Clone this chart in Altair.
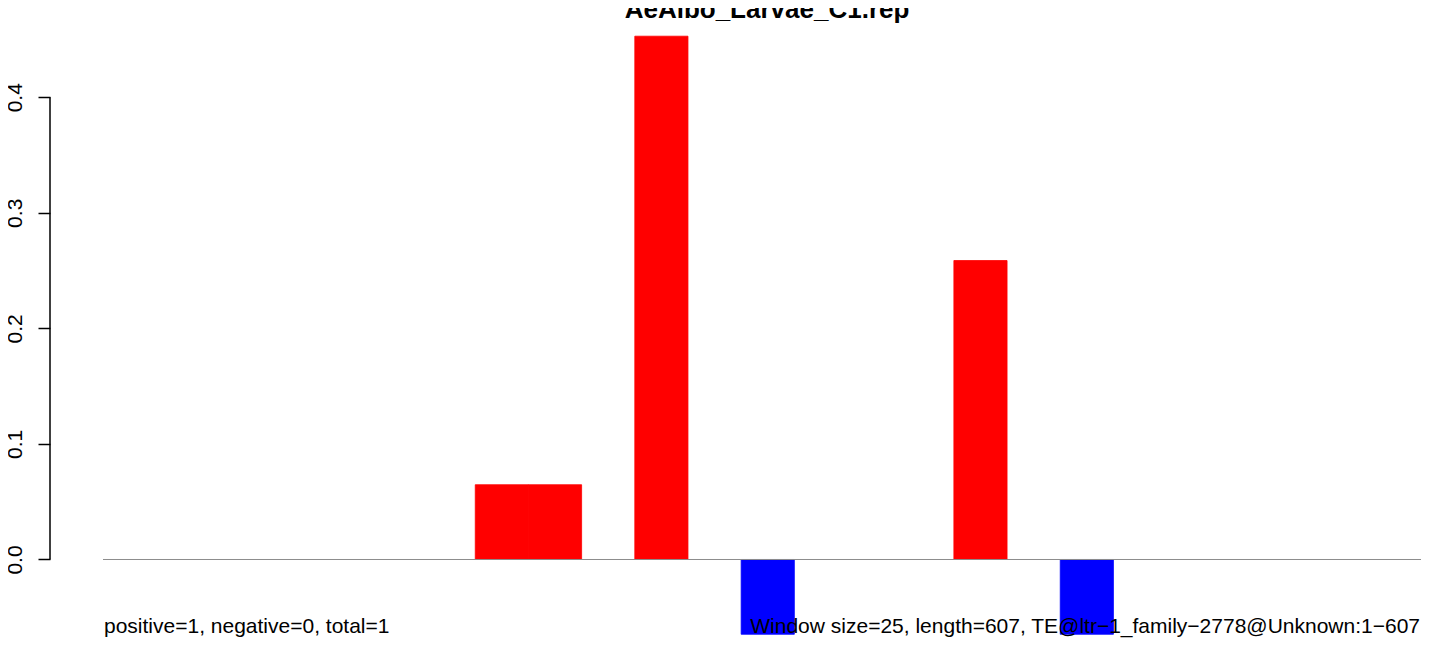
import altair as alt
import pandas as pd

# ---- data ----
bin_index = list(range(25))
bin_values = [0, 0, 0, 0, 0, 0, 0, 0.0647, 0.0647, 0, 0.4528, 0, -0.0647,
              0, 0, 0, 0.2587, 0, -0.0647, 0, 0, 0, 0, 0, 0]
y_ticks = [0.0, 0.1, 0.2, 0.3, 0.4]
title_text = "AeAlbo_Larvae_C1.rep"
left_note = "positive=1, negative=0, total=1"
right_note = "Window size=25, length=607, TE@ltr\u22121_family\u22122778@Unknown:1\u2212607"

FONT = "Liberation Sans"
PX_PER_BIN = 53.18
PLOT_W = 1318
PLOT_H = 630

df = pd.DataFrame({
    "start": bin_index,
    "end": [b + 1 for b in bin_index],
    "value": bin_values,
    "sign": ["neg" if v < 0 else "pos" for v in bin_values],
})
df = df[df["value"] != 0]

xs = alt.Scale(domain=[0, PLOT_W / PX_PER_BIN], nice=False, zero=False)
ys = alt.Scale(domain=[-0.06793, 0.4772], nice=False, zero=False)
col_scale = alt.Scale(domain=["pos", "neg"], range=["#FF0000", "#0000FF"])

bars = alt.Chart(df).mark_bar(strokeWidth=0.8).encode(
    x=alt.X("start:Q", scale=xs, axis=None),
    x2="end:Q",
    y=alt.Y("value:Q", scale=ys, axis=alt.Axis(
        values=y_ticks, format=".1f", domain=False, grid=False, title=None,
        tickSize=12, tickWidth=1.5, tickColor="black",
        labelFontSize=21, labelFont=FONT, labelColor="black",
        labelAngle=270, labelAlign="center", labelBaseline="alphabetic",
        labelPadding=17, offset=53)),
    y2=alt.datum(0),
    color=alt.Color("sign:N", scale=col_scale, legend=None),
    stroke=alt.Stroke("sign:N", scale=col_scale, legend=None),
)

baseline = alt.Chart(pd.DataFrame({"x0": [0], "x1": [25], "y0": [0]})).mark_rule(
    color="#8c8c8c", strokeWidth=1, clip=True).encode(
    x=alt.X("x0:Q", scale=xs), x2="x1:Q", y=alt.Y("y0:Q", scale=ys))

axis_line = alt.Chart(pd.DataFrame({"lo": [y_ticks[0]], "hi": [y_ticks[-1]]})).mark_rule(
    color="black", strokeWidth=1.5).encode(
    x=alt.value(-53), y=alt.Y("lo:Q", scale=ys), y2="hi:Q")

title = alt.Chart(pd.DataFrame({"t": [title_text]})).mark_text(
    font=FONT, fontSize=26, fontWeight="bold", align="center",
    baseline="alphabetic", color="black").encode(
    x=alt.value(664), y=alt.value(10), text="t:N")

note_left = alt.Chart(pd.DataFrame({"t": [left_note]})).mark_text(
    font=FONT, fontSize=21, align="left", baseline="alphabetic",
    color="black").encode(x=alt.value(1), y=alt.value(624.5), text="t:N")

note_right = alt.Chart(pd.DataFrame({"t": [right_note]})).mark_text(
    font=FONT, fontSize=21, align="right", baseline="alphabetic",
    color="black").encode(x=alt.value(PLOT_W - 1), y=alt.value(624.5), text="t:N")

chart = alt.layer(bars, baseline, axis_line, title, note_left, note_right).properties(
    width=PLOT_W, height=PLOT_H,
    background="white",
    autosize=alt.AutoSizeParams(type="none"),
    padding={"left": 95, "top": 0, "right": 0, "bottom": 0},
).configure_view(stroke="transparent", strokeWidth=0)

chart.save("out.html", embed_options={"renderer": "svg", "actions": False})
